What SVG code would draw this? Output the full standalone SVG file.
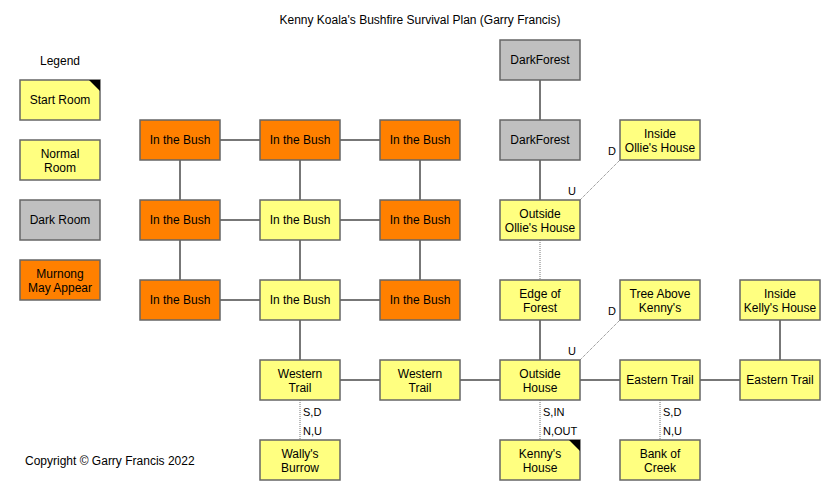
<svg xmlns="http://www.w3.org/2000/svg" width="840" height="500" viewBox="0 0 840 500">
<style>
text{font-family:"Liberation Sans",Arial,sans-serif;font-size:12px;fill:#000;}
.n rect{stroke:#666;stroke-width:1.5;}
.y rect{fill:#ffff80;}
.o rect{fill:#ff8000;}
.g rect{fill:#c0c0c0;}
.n text{text-anchor:middle;}
.c line{stroke:#777;stroke-width:2;}
.c line.d{stroke:#777;stroke-width:1;stroke-dasharray:1,1;}
.lbl{font-size:11px;}
</style>
<rect width="840" height="500" fill="#fff"/>
<text x="420" y="24" text-anchor="middle">Kenny Koala's Bushfire Survival Plan (Garry Francis)</text>
<text x="25" y="465">Copyright © Garry Francis 2022</text>
<g id="legend">
<text x="60" y="65" text-anchor="middle">Legend</text>
<g id="lg-start" class="n y"><rect x="20" y="80" width="80" height="40"/><path d="M89,80 L100,80 L100,91 Z" fill="#000"/><text x="60" y="104">Start Room</text></g>
<g id="lg-normal" class="n y"><rect x="20" y="140" width="80" height="40"/><text x="60" y="158">Normal</text><text x="60" y="172">Room</text></g>
<g id="lg-dark" class="n g"><rect x="20" y="200" width="80" height="40"/><text x="60" y="224">Dark Room</text></g>
<g id="lg-murnong" class="n o"><rect x="20" y="260" width="80" height="40"/><text x="60" y="278">Murnong</text><text x="60" y="292">May Appear</text></g>
</g>
<g id="connectors" class="c">
<line x1="220" y1="140" x2="260" y2="140"/>
<line x1="340" y1="140" x2="380" y2="140"/>
<line x1="220" y1="220" x2="260" y2="220"/>
<line x1="340" y1="220" x2="380" y2="220"/>
<line x1="220" y1="300" x2="260" y2="300"/>
<line x1="340" y1="300" x2="380" y2="300"/>
<line x1="180" y1="160" x2="180" y2="200"/>
<line x1="300" y1="160" x2="300" y2="200"/>
<line x1="420" y1="160" x2="420" y2="200"/>
<line x1="180" y1="240" x2="180" y2="280"/>
<line x1="300" y1="240" x2="300" y2="280"/>
<line x1="420" y1="240" x2="420" y2="280"/>
<line x1="300" y1="320" x2="300" y2="360"/>
<line x1="340" y1="380" x2="380" y2="380"/>
<line x1="460" y1="380" x2="500" y2="380"/>
<line x1="580" y1="380" x2="620" y2="380"/>
<line x1="700" y1="380" x2="740" y2="380"/>
<line x1="780" y1="320" x2="780" y2="360"/>
<line x1="540" y1="80" x2="540" y2="120"/>
<line x1="540" y1="160" x2="540" y2="200"/>
<line x1="540" y1="320" x2="540" y2="360"/>
<line class="d" x1="540" y1="240" x2="540" y2="280"/>
<line class="d" x1="580" y1="200" x2="620" y2="160"/>
<line class="d" x1="580" y1="360" x2="620" y2="320"/>
<line class="d" x1="300" y1="400" x2="300" y2="440"/>
<line class="d" x1="540" y1="400" x2="540" y2="440"/>
<line class="d" x1="660" y1="400" x2="660" y2="440"/>
<text class="lbl" x="568" y="195">U</text>
<text class="lbl" x="608" y="155">D</text>
<text class="lbl" x="568" y="355">U</text>
<text class="lbl" x="608" y="315">D</text>
<text class="lbl" x="303" y="416">S,D</text>
<text class="lbl" x="303" y="435">N,U</text>
<text class="lbl" x="543" y="416">S,IN</text>
<text class="lbl" x="543" y="435">N,OUT</text>
<text class="lbl" x="663" y="416">S,D</text>
<text class="lbl" x="663" y="435">N,U</text>
</g>
<g id="bush11" class="n o"><rect x="140" y="120" width="80" height="40"/><text x="180" y="144">In the Bush</text></g>
<g id="bush12" class="n o"><rect x="260" y="120" width="80" height="40"/><text x="300" y="144">In the Bush</text></g>
<g id="bush13" class="n o"><rect x="380" y="120" width="80" height="40"/><text x="420" y="144">In the Bush</text></g>
<g id="bush21" class="n o"><rect x="140" y="200" width="80" height="40"/><text x="180" y="224">In the Bush</text></g>
<g id="bush22" class="n y"><rect x="260" y="200" width="80" height="40"/><text x="300" y="224">In the Bush</text></g>
<g id="bush23" class="n o"><rect x="380" y="200" width="80" height="40"/><text x="420" y="224">In the Bush</text></g>
<g id="bush31" class="n o"><rect x="140" y="280" width="80" height="40"/><text x="180" y="304">In the Bush</text></g>
<g id="bush32" class="n y"><rect x="260" y="280" width="80" height="40"/><text x="300" y="304">In the Bush</text></g>
<g id="bush33" class="n o"><rect x="380" y="280" width="80" height="40"/><text x="420" y="304">In the Bush</text></g>
<g id="darkforest1" class="n g"><rect x="500" y="40" width="80" height="40"/><text x="540" y="64">DarkForest</text></g>
<g id="darkforest2" class="n g"><rect x="500" y="120" width="80" height="40"/><text x="540" y="144">DarkForest</text></g>
<g id="insideollie" class="n y"><rect x="620" y="120" width="80" height="40"/><text x="660" y="138">Inside</text><text x="660" y="152">Ollie's House</text></g>
<g id="outsideollie" class="n y"><rect x="500" y="200" width="80" height="40"/><text x="540" y="218">Outside</text><text x="540" y="232">Ollie's House</text></g>
<g id="edgeforest" class="n y"><rect x="500" y="280" width="80" height="40"/><text x="540" y="298">Edge of</text><text x="540" y="312">Forest</text></g>
<g id="treeabove" class="n y"><rect x="620" y="280" width="80" height="40"/><text x="660" y="298">Tree Above</text><text x="660" y="312">Kenny's</text></g>
<g id="insidekelly" class="n y"><rect x="740" y="280" width="80" height="40"/><text x="780" y="298">Inside</text><text x="780" y="312">Kelly's House</text></g>
<g id="western1" class="n y"><rect x="260" y="360" width="80" height="40"/><text x="300" y="378">Western</text><text x="300" y="392">Trail</text></g>
<g id="western2" class="n y"><rect x="380" y="360" width="80" height="40"/><text x="420" y="378">Western</text><text x="420" y="392">Trail</text></g>
<g id="outsidehouse" class="n y"><rect x="500" y="360" width="80" height="40"/><text x="540" y="378">Outside</text><text x="540" y="392">House</text></g>
<g id="eastern1" class="n y"><rect x="620" y="360" width="80" height="40"/><text x="660" y="384">Eastern Trail</text></g>
<g id="eastern2" class="n y"><rect x="740" y="360" width="80" height="40"/><text x="780" y="384">Eastern Trail</text></g>
<g id="wally" class="n y"><rect x="260" y="440" width="80" height="40"/><text x="300" y="458">Wally's</text><text x="300" y="472">Burrow</text></g>
<g id="kennyhouse" class="n y"><rect x="500" y="440" width="80" height="40"/><path d="M569,440 L580,440 L580,451 Z" fill="#000"/><text x="540" y="458">Kenny's</text><text x="540" y="472">House</text></g>
<g id="bankcreek" class="n y"><rect x="620" y="440" width="80" height="40"/><text x="660" y="458">Bank of</text><text x="660" y="472">Creek</text></g>
</svg>
